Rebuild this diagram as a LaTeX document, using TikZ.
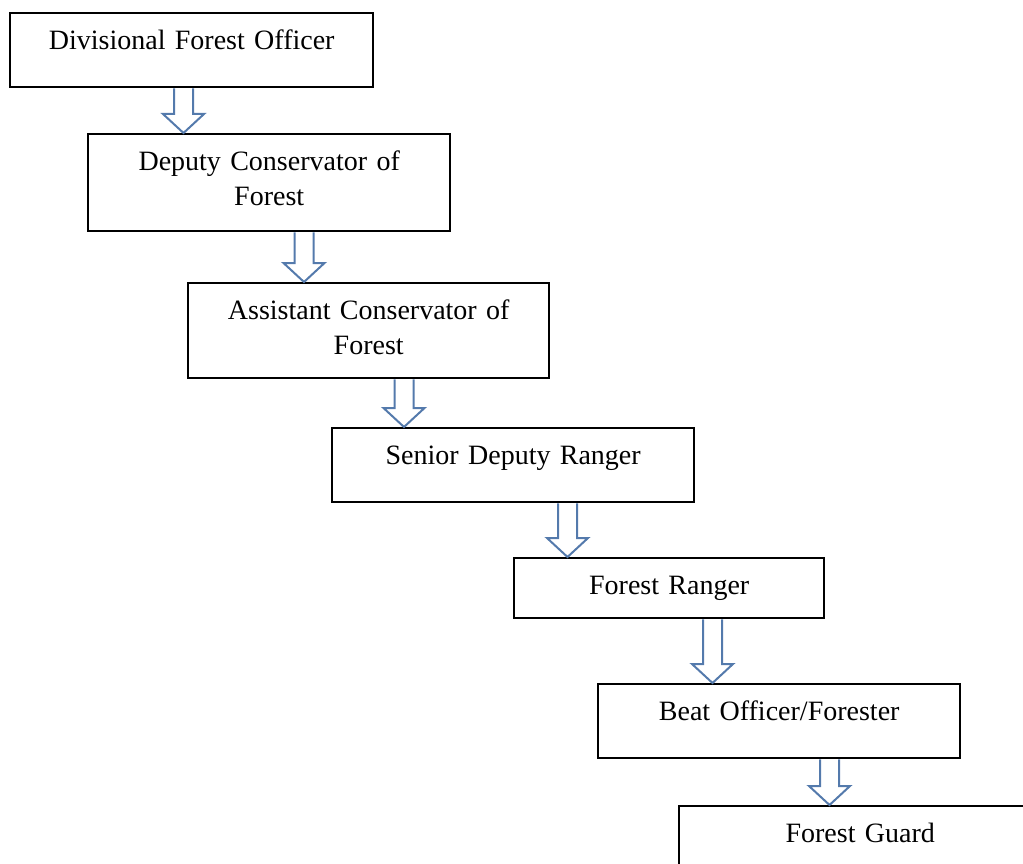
\documentclass[tikz,border=0pt]{standalone}
\usepackage{fontspec}
\setmainfont{Liberation Serif}
\usetikzlibrary{calc}
\definecolor{arrowblue}{RGB}{84,122,172}
% hollow block arrow at x=#1 from node #2 down to node #3
\newcommand{\downblock}[3]{%
  \draw[flowarrow] let \p1=(#2.south), \p2=(#3.north) in
    (#1pt-9.5pt,\y1) -- (#1pt-9.5pt,\y2+19pt) -- (#1pt-20.5pt,\y2+19pt) -- (#1pt,\y2)
    -- (#1pt+20.5pt,\y2+19pt) -- (#1pt+9.5pt,\y2+19pt) -- (#1pt+9.5pt,\y1);}

\begin{document}
\begin{tikzpicture}[x=1pt,y=-1pt,
  rank/.style={draw, line width=2.4pt, anchor=north west, inner sep=0pt, align=center,
    text height=36pt, font=\fontsize{28}{35}\selectfont},
  flowarrow/.style={draw=arrowblue, line width=2pt, line join=miter}]
\clip (0,0) rectangle (1023,864);
\node[rank, text width=363pt, text depth=38pt] (dfo) at (9,12) {Divisional Forest Officer};
\node[rank, text width=362pt, text depth=61pt] (dcf) at (87,133) {Deputy Conservator of\\Forest};
\node[rank, text width=361pt, text depth=59pt] (acf) at (187,282) {Assistant Conservator of\\Forest};
\node[rank, text width=362pt, text depth=38pt] (sdr) at (331,427) {Senior Deputy Ranger};
\node[rank, text width=310pt, text depth=24pt] (ranger) at (513,557) {Forest Ranger};
\node[rank, text width=362pt, text depth=38pt] (beat) at (597,683) {Beat Officer/Forester};
\node[rank, text width=362pt, text depth=38pt] (guard) at (678,805) {Forest Guard};
\downblock{183.5}{dfo}{dcf}
\downblock{304}{dcf}{acf}
\downblock{404}{acf}{sdr}
\downblock{567.5}{sdr}{ranger}
\downblock{712.5}{ranger}{beat}
\downblock{829.5}{beat}{guard}
\end{tikzpicture}
\end{document}
